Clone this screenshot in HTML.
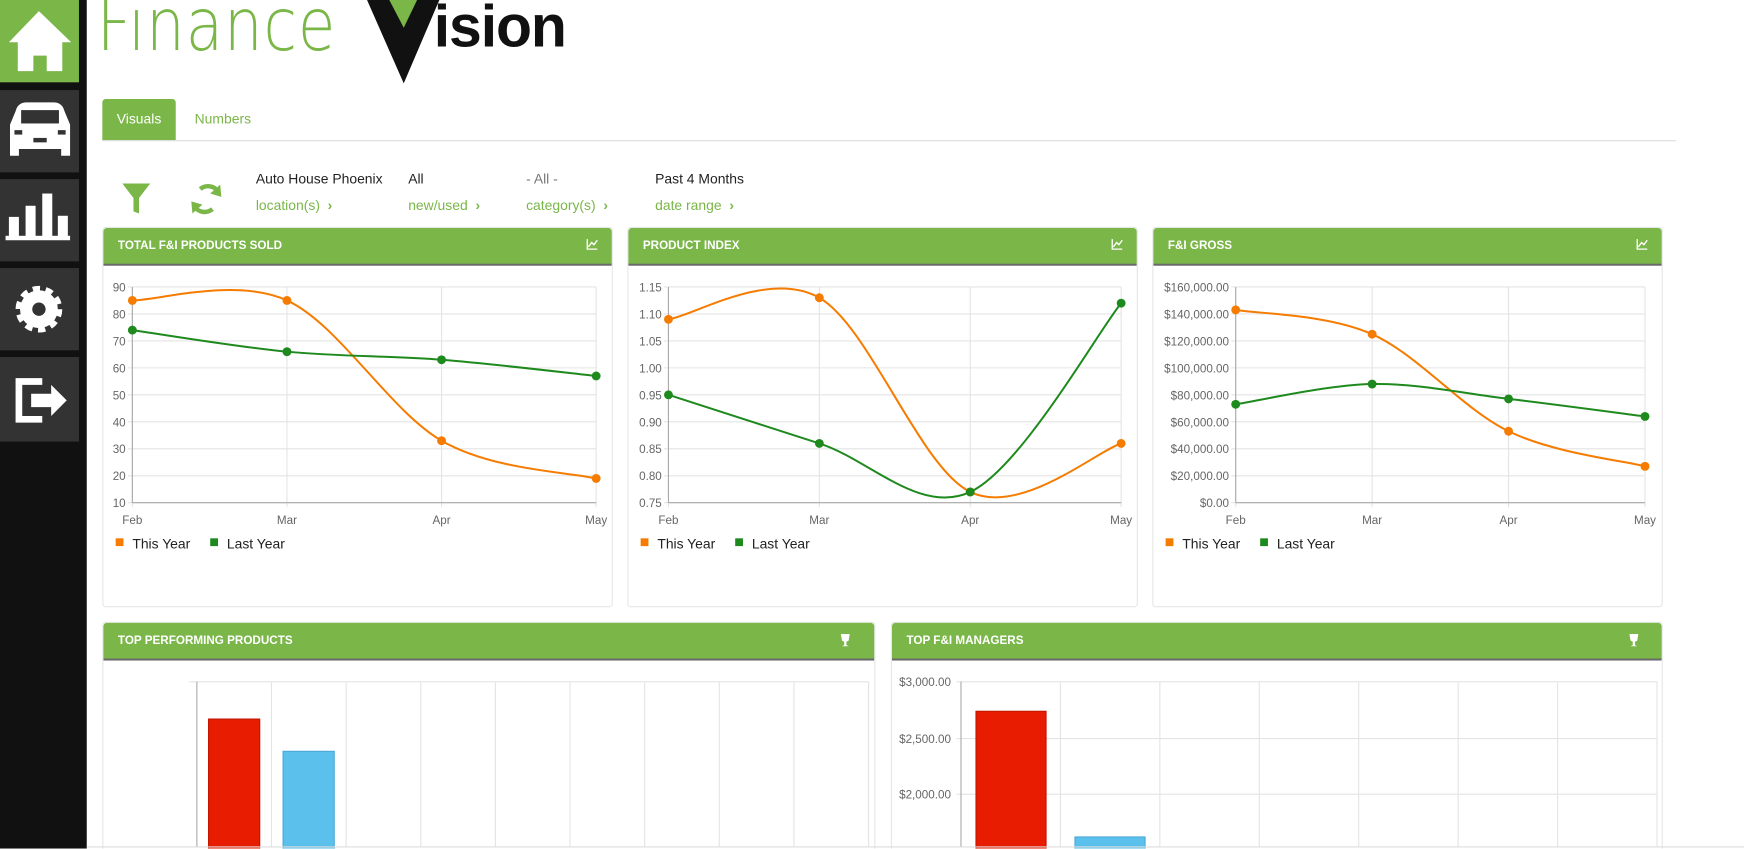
<!DOCTYPE html>
<html><head><meta charset="utf-8"><style>
html,body{margin:0;padding:0;background:#fff;overflow:hidden;width:1744px;height:848px}
#w{position:absolute;left:0;top:0;width:1568px;height:763px;overflow:hidden;transform:scale(1.11224);transform-origin:0 0;font-family:"Liberation Sans",sans-serif}
.abs{position:absolute}
.tile{position:absolute;left:0;width:71px;background:#333}
.panel{position:absolute;border:1px solid #e6e6e6;background:#fff;border-radius:3px}
.hd{position:absolute;left:0;top:0;right:0;height:32px;background:#7ab648;border-bottom:2px solid #6a6a6a;color:#fff;font-size:10.5px;font-weight:bold;line-height:33px;padding-left:13px;border-radius:3px 3px 0 0}
.f1{position:absolute;font-size:12.5px;color:#222;top:154px}
.f2{position:absolute;font-size:12.5px;color:#7ab648;top:178px}
svg text{font-family:"Liberation Sans",sans-serif}
</style></head><body><div id="w">
<div class="abs" style="left:0;top:0;width:78px;height:763px;background:#111"></div>
<div class="tile" style="top:0;height:74px;background:#7ab648"></div>
<div class="tile" style="top:81px;height:74px"></div>
<div class="tile" style="top:161px;height:74px"></div>
<div class="tile" style="top:241px;height:74px"></div>
<div class="tile" style="top:321px;height:76px"></div>
<svg class="abs" style="left:0;top:0" width="78" height="400">
<path d="M35 10 L64 38 L56 38 L56 64 L42 64 L42 50 L30 50 L30 64 L16 64 L16 38 L8 38 Z" fill="#fff"/>
<path d="M14 100 Q16 92 24 92 L48 92 Q56 92 58 100 L63 112 L63 140 L55 140 L55 134 L17 134 L17 140 L9 140 L9 112 Z" fill="#fff"/>
<rect x="19" y="99" width="34" height="12" fill="#333"/><rect x="13" y="117" width="7" height="4" fill="#333"/><rect x="52" y="117" width="7" height="4" fill="#333"/><rect x="30" y="124" width="12" height="4" fill="#333"/>
<rect x="5" y="212" width="58" height="4" fill="#fff"/><rect x="8" y="195" width="9" height="18" fill="#fff"/><rect x="23" y="185" width="9" height="28" fill="#fff"/><rect x="38" y="174" width="9" height="39" fill="#fff"/><rect x="52" y="194" width="9" height="19" fill="#fff"/>
<circle cx="35" cy="278" r="17" fill="#fff" stroke="#fff" stroke-width="8" stroke-dasharray="6 4.7"/><circle cx="35" cy="278" r="6" fill="#333"/>
<path d="M38 343 L17 343 L17 377 L38 377" fill="none" stroke="#fff" stroke-width="6"/><path d="M28 354 L46 354 L46 346 L60 360 L46 374 L46 366 L28 366 Z" fill="#fff"/>
</svg>
<div class="abs" style="left:87px;top:-14px;font-size:66px;color:#7ab648;font-weight:100;letter-spacing:1px;transform:scaleX(0.83);transform-origin:0 0;font-family:'DejaVu Sans',sans-serif;line-height:74px">Finance</div>
<svg class="abs" style="left:325px;top:0" width="190" height="80"><path d="M5 0 L30 0 L38 22 L46 0 L70 0 L38 75 Z" fill="#111"/><path d="M25 0 L50 0 L38 25 Z" fill="#7ab648"/></svg>
<div class="abs" style="left:390px;top:-6px;font-size:53px;font-weight:bold;color:#111;letter-spacing:-1px;line-height:62px">ision</div>
<div class="abs" style="left:92px;top:89px;width:66px;height:37px;background:#7ab648;border-radius:3px 3px 0 0;color:#fff;font-size:12.5px;line-height:37px;text-align:center">Visuals</div>
<div class="abs" style="left:175px;top:100px;font-size:12.5px;color:#7ab648">Numbers</div>
<div class="abs" style="left:92px;top:126px;width:1415px;height:1px;background:#ddd"></div>
<svg class="abs" style="left:105px;top:160px" width="100" height="40"><path d="M5 5 L30 5 L20 18 L20 32 L15 30 L15 18 Z" fill="#7ab648"/>
<path d="M75 10 A11 11 0 0 1 91 12" fill="none" stroke="#7ab648" stroke-width="4"/><path d="M93 6 L94 17 L84 14 Z" fill="#7ab648"/><path d="M86 28 A11 11 0 0 1 70 26" fill="none" stroke="#7ab648" stroke-width="4"/><path d="M68 32 L67 21 L77 24 Z" fill="#7ab648"/></svg>
<div class="f1" style="left:230px">Auto House Phoenix</div><div class="f2" style="left:230px">location(s) &nbsp;<b>›</b></div>
<div class="f1" style="left:367px">All</div><div class="f2" style="left:367px">new/used &nbsp;<b>›</b></div>
<div class="f1" style="left:473px;color:#777">- All -</div><div class="f2" style="left:473px">category(s) &nbsp;<b>›</b></div>
<div class="f1" style="left:589px">Past 4 Months</div><div class="f2" style="left:589px">date range &nbsp;<b>›</b></div>

<div class="panel" style="left:92px;top:204px;width:457px;height:340px"><div class="hd">TOTAL F&amp;I PRODUCTS SOLD</div></div>
<div class="panel" style="left:564px;top:204px;width:457px;height:340px"><div class="hd">PRODUCT INDEX</div></div>
<div class="panel" style="left:1036px;top:204px;width:457px;height:340px"><div class="hd">F&amp;I GROSS</div></div>
<div class="panel" style="left:92px;top:559px;width:693px;height:220px"><div class="hd">TOP PERFORMING PRODUCTS</div></div>
<div class="panel" style="left:801px;top:559px;width:692px;height:220px"><div class="hd">TOP F&amp;I MANAGERS</div></div>
<svg id="s" class="abs" style="left:0;top:0" width="1568" height="763"></svg>
</div>
<script>
var s=document.getElementById('s'),h='';
function T(x,y,t,a,c,sz){h+='<text x="'+x+'" y="'+y+'" font-size="'+(sz||10.5)+'" fill="'+(c||'#666')+'" text-anchor="'+(a||'end')+'">'+t+'</text>';}
function L(a,b,c,d,col){h+='<line x1="'+a+'" y1="'+b+'" x2="'+c+'" y2="'+d+'" stroke="'+(col||'#e4e4e4')+'" stroke-width="1"/>';}
function curve(p,col){var d='M'+p[0][0]+' '+p[0][1];for(var i=0;i<p.length-1;i++){var p0=p[i-1]||p[i],p1=p[i],p2=p[i+1],p3=p[i+2]||p2,t=0.4/2*1.0;
d+=' C'+(p1[0]+(p2[0]-p0[0])*t/1.2)+' '+(p1[1]+(p2[1]-p0[1])*t/1.2)+' '+(p2[0]-(p3[0]-p1[0])*t/1.2)+' '+(p2[1]-(p3[1]-p1[1])*t/1.2)+' '+p2[0]+' '+p2[1];}
h+='<path d="'+d+'" fill="none" stroke="'+col+'" stroke-width="1.8"/>';p.forEach(function(q){h+='<circle cx="'+q[0]+'" cy="'+q[1]+'" r="4" fill="'+col+'"/>';});}
function chart(x0,x1,labs,mn,mx,o,g,lx){var y0=258,y1=452,n=labs.length-1;
for(var i=0;i<=n;i++){var y=y1-(y1-y0)*i/n;L(x0-4,y,x1,y);T(x0-6,y+4,labs[i]);}
var m=['Feb','Mar','Apr','May'];for(var j=0;j<4;j++){var x=x0+(x1-x0)*j/3;L(x,y0,x,y1+4);T(x,471,m[j],'middle');}
L(x0,y0,x0,y1,'#aaa');L(x0,y1,x1,y1,'#aaa');
function P(a){return a.map(function(v,j){return[x0+(x1-x0)*j/3,y1-(v-mn)/(mx-mn)*(y1-y0)];});}
curve(P(o),'#f57c00');curve(P(g),'#1e8a1e');
h+='<rect x="'+lx+'" y="484" width="7" height="7" fill="#f57c00"/>';T(lx+15,493,'This Year','start','#222',12.5);
h+='<rect x="'+(lx+85)+'" y="484" width="7" height="7" fill="#1e8a1e"/>';T(lx+100,493,'Last Year','start','#222',12.5);}
chart(119,536,['10','20','30','40','50','60','70','80','90'],10,90,[85,85,33,19],[74,66,63,57],104);
chart(601,1008,['0.75','0.80','0.85','0.90','0.95','1.00','1.05','1.10','1.15'],0.75,1.15,[1.09,1.13,0.77,0.86],[0.95,0.86,0.77,1.12],576);
chart(1111,1479,['$0.00','$20,000.00','$40,000.00','$60,000.00','$80,000.00','$100,000.00','$120,000.00','$140,000.00','$160,000.00'],0,160000,[143000,125000,53000,27000],[73000,88000,77000,64000],1048);
for(var k=0;k<3;k++){var ix=[528,1000,1472][k];h+='<path d="M'+ix+' 215 L'+ix+' 224 L'+(ix+9)+' 224 M'+(ix+1)+' 222 L'+(ix+4)+' 218 L'+(ix+6)+' 220 L'+(ix+9)+' 216" stroke="#fff" fill="none" stroke-width="1.2"/>';}
[760,1469].forEach(function(ix){h+='<path d="M'+(ix-4)+' 570 L'+(ix+4)+' 570 L'+(ix+3)+' 576 L'+(ix+1)+' 577 L'+(ix+1)+' 580 L'+(ix+3)+' 581 L'+(ix-3)+' 581 L'+(ix-1)+' 580 L'+(ix-1)+' 577 L'+(ix-3)+' 576 Z" fill="#fff"/>';});
L(170,613,781,613);for(var i=0;i<10;i++){var x=177+i*67.1;L(x,613,x,762,i==0?'#aaa':'#e4e4e4');}
h+='<rect x="187.5" y="646.5" width="46" height="120" fill="#e81c00" stroke="#c31600"/><rect x="254.5" y="675.5" width="46" height="100" fill="#5bc0eb" stroke="#4aa8d8"/>';
[[613,'$3,000.00'],[664,'$2,500.00'],[714,'$2,000.00']].forEach(function(a){L(860,a[0],1490,a[0]);T(855,a[0]+4,a[1]);});
for(var i=0;i<8;i++){var x=864+i*89.4;L(x,613,x,762,i==0?'#aaa':'#e4e4e4');}
h+='<rect x="877.5" y="639.5" width="63" height="130" fill="#e81c00" stroke="#c31600"/><rect x="966.5" y="752.5" width="63" height="30" fill="#5bc0eb" stroke="#4aa8d8"/>';
L(78,761.5,1568,761.5,'#ddd');
s.innerHTML=h;
</script></body></html>
